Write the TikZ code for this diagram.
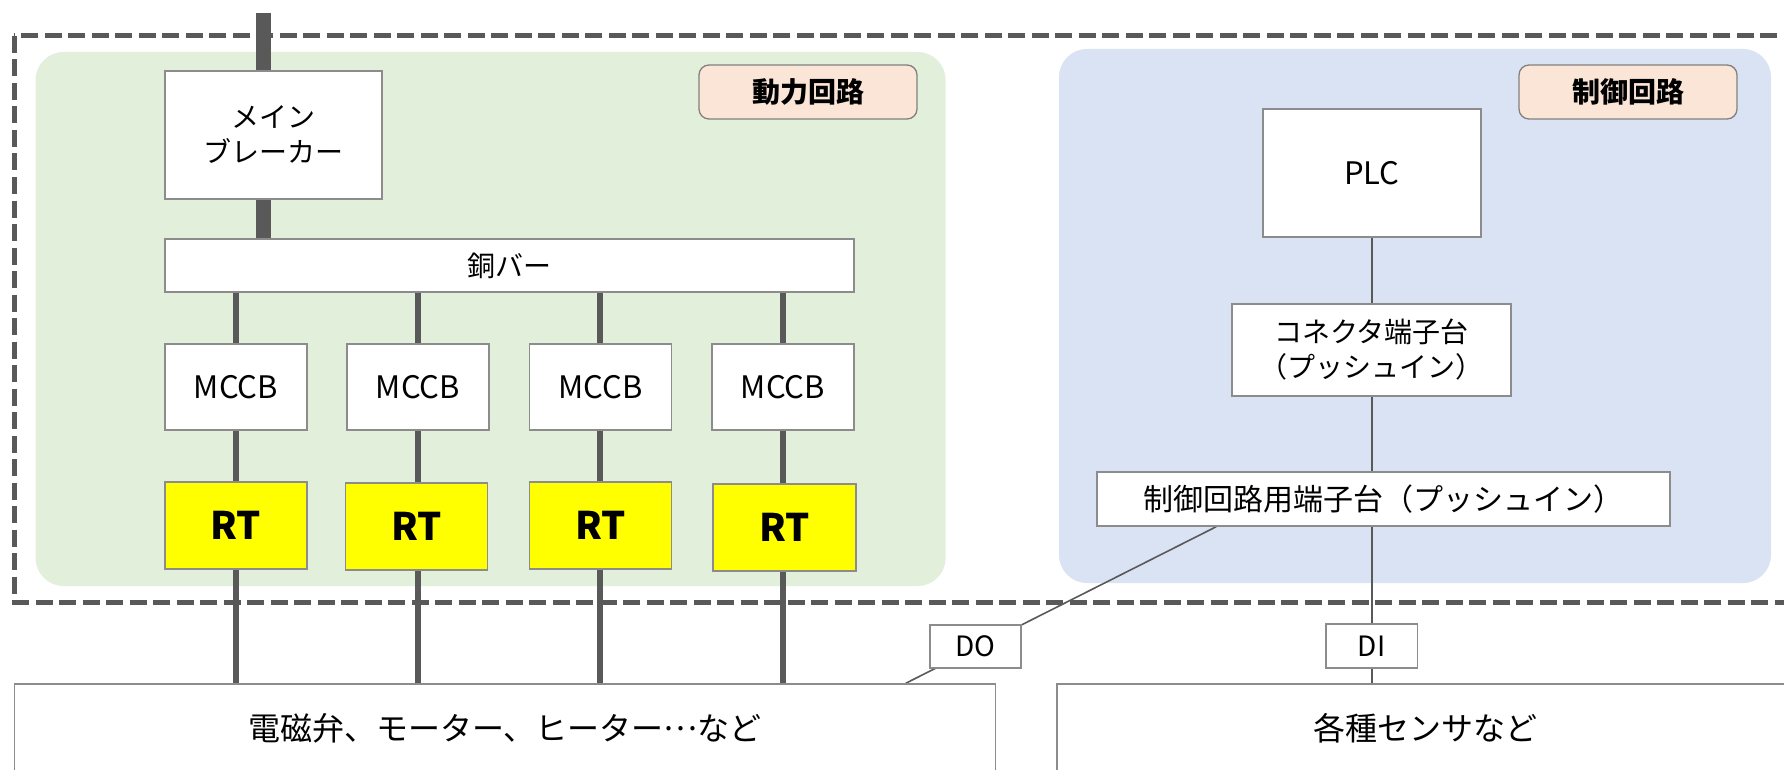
\documentclass[tikz,border=0pt]{standalone}
\usepackage{fontspec}
\setmainfont{Noto Sans CJK JP}
\usetikzlibrary{calc}
\definecolor{lc}{HTML}{595959}
\definecolor{bc}{HTML}{8C8C8C}
\definecolor{pgreen}{HTML}{E2EFDA}
\definecolor{pblue}{HTML}{DAE3F3}
\definecolor{lpeach}{HTML}{FBE5D6}
\definecolor{rtyellow}{HTML}{FFFF00}
\newcommand\myfsA{\fontsize{28}{35}\selectfont}
\newcommand\myfsM{\fontsize{31}{36}\selectfont}
\newcommand\myfsB{\fontsize{30}{36}\selectfont}
\newcommand\myfsC{\fontsize{32}{38}\selectfont}
\newcommand\myfsRT{\fontsize{38}{44}\bfseries\selectfont}
\newcommand\myfsL{\fontsize{28}{34}\bfseries\selectfont}
\pgfdeclarelayer{panels}
\pgfdeclarelayer{wires}
\pgfsetlayers{panels,wires,main}
\begin{document}
\begin{tikzpicture}[x=1pt,y=-1pt,
  box/.style={draw=bc, line width=1.3pt, fill=white, inner sep=0pt, align=center, font=\myfsA},
  sz/.style 2 args={minimum width=#1pt, minimum height=#2pt},
  mccbbox/.style={box, font=\myfsM, minimum width=142pt, minimum height=86pt},
  rtbox/.style={box, fill=rtyellow, font=\myfsRT},
  tagbox/.style={draw=gray, line width=1.3pt, fill=lpeach, rounded corners=10pt, inner sep=0pt, font=\myfsL, minimum width=218pt, minimum height=54pt},
  power/.style={lc, line width=15pt},
  branch/.style={lc, line width=6pt},
  signal/.style={lc, line width=1.6pt},
  frame/.style={lc, line width=5pt, dash pattern=on 17pt off 6.5pt}
]
\useasboundingbox (0,0) rectangle (1784,770);
\clip (0,0) rectangle (1784,770);

% panels and outer frame
\begin{pgfonlayer}{panels}
\fill[white] (0,0) rectangle (1784,770);
\fill[pgreen, rounded corners=28pt] (35.6,52) rectangle (945.6,586);
\fill[pblue, rounded corners=28pt] (1059,49) rectangle (1771,583);
\draw[frame] (14,36) rectangle (1810,602);
\end{pgfonlayer}

% labels
\node[tagbox] (lab1) at (808,92) {動力回路};
\node[tagbox] (lab2) at (1628,92) {制御回路};

% power circuit
\node[box, sz={217}{128}] (mb) at (273.5,135) {メイン\\ブレーカー};
\node[box, sz={689}{53}] (bar) at (509.5,265.5) {銅バー};
\node[mccbbox] (m1) at (236,387) {MCCB};
\node[mccbbox] (m2) at (418,387) {MCCB};
\node[mccbbox] (m3) at (600.3,387) {MCCB};
\node[mccbbox] (m4) at (783,387) {MCCB};
\node[rtbox, sz={142}{87}] (r1) at (236,525.5) {RT};
\node[rtbox, sz={142}{87}] (r2) at (416.5,526.5) {RT};
\node[rtbox, sz={142}{87}] (r3) at (600.3,525.5) {RT};
\node[rtbox, sz={143}{87}] (r4) at (784.5,527.5) {RT};
\node[box, sz={980.5}{88}, font=\myfsC] (load) at (505,728) {電磁弁、モーター、ヒーター\raisebox{0.3em}{…}など};

% control circuit
\node[box, sz={218}{128}, font=\myfsM] (plc) at (1372,173) {PLC};
\node[box, sz={279}{92}] (conn) at (1371.5,350) {コネクタ端子台\\（プッシュイン）};
\node[box, sz={573}{54}, font=\myfsB] (tb) at (1383.5,499) {制御回路用端子台（プッシュイン）};
\node[box, sz={736}{88}, font=\myfsC] (sens) at (1425,728) {各種センサなど};
\node[box, sz={91}{43}] (do) at (975.5,646.5) {DO};
\node[box, sz={91.5}{44}] (di) at (1371.7,646) {DI};

\coordinate (feed) at (263,13);
\coordinate (doA) at ([xshift=120pt]tb.south west);
\coordinate (doB) at ([xshift=891.5pt]load.north west);

\begin{pgfonlayer}{wires}
\draw[power] (feed) -- (feed |- mb.north);
\draw[power] (mb.south -| feed) -- (bar.north -| feed);
\foreach \i in {1,2,3,4}{
  \draw[branch] (bar.south -| m\i) -- (m\i.north);
  \draw[branch] (m\i.south) -- (m\i.south |- r\i.north);
  \draw[branch] (r\i.south -| m\i) -- (load.north -| m\i);
}
\draw[signal] (plc.south) -- (plc.south |- conn.north);
\draw[signal] (plc.south |- conn.south) -- (plc.south |- tb.north);
\draw[signal] (plc.south |- tb.south) -- (plc.south |- di.north);
\draw[signal] (plc.south |- di.south) -- (plc.south |- sens.north);
\draw[signal] (doA) -- (doB);
\end{pgfonlayer}
\end{tikzpicture}
\end{document}
